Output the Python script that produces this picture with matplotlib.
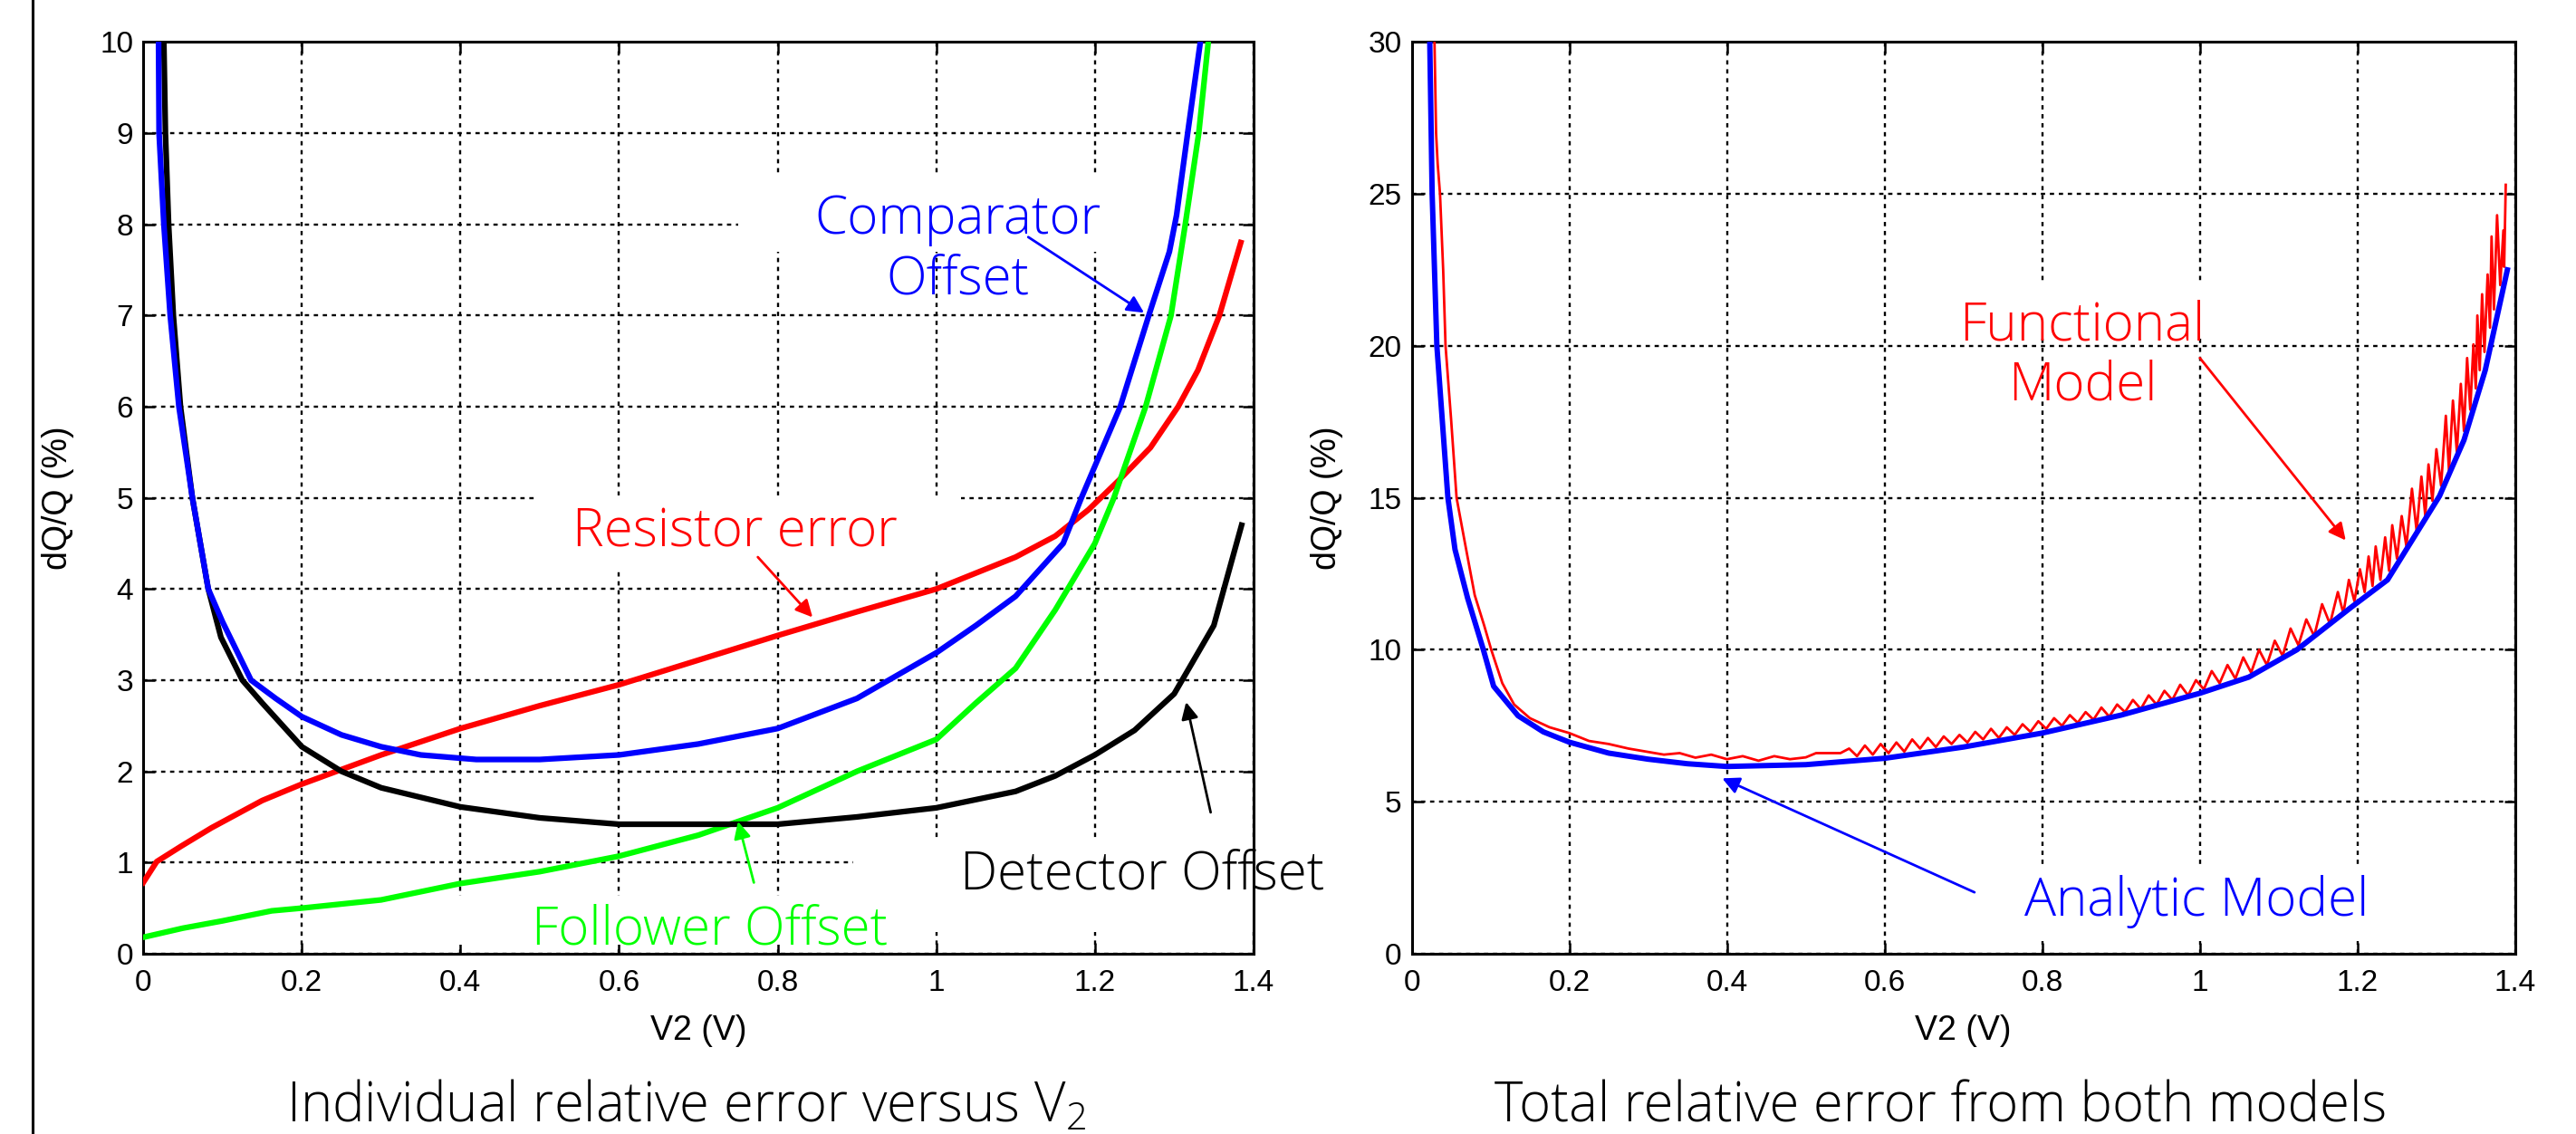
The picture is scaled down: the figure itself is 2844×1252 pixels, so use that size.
import matplotlib
matplotlib.use("Agg")
from matplotlib import pyplot as plt
from matplotlib.lines import Line2D
from matplotlib.patches import Rectangle

# ---- left panel: individual relative error (%) versus V2 (V)
comp_x = [0.019, 0.020, 0.026, 0.034, 0.045, 0.062, 0.082, 0.100, 0.136, 0.167, 0.200,
          0.250, 0.300, 0.350, 0.420, 0.500, 0.600, 0.700, 0.800, 0.900, 1.000, 1.050,
          1.100, 1.160, 1.183, 1.232, 1.268, 1.294, 1.303, 1.317, 1.341]
comp_y = [10.5, 9.0, 8.0, 7.0, 6.0, 5.0, 4.0, 3.64, 3.0, 2.8, 2.6,
          2.4, 2.27, 2.18, 2.13, 2.13, 2.18, 2.3, 2.47, 2.8, 3.3, 3.6,
          3.92, 4.5, 5.0, 6.0, 7.0, 7.7, 8.1, 9.0, 10.5]

det_x = [0.025, 0.028, 0.032, 0.038, 0.047, 0.062, 0.082, 0.098, 0.125, 0.150, 0.200,
         0.250, 0.300, 0.400, 0.500, 0.600, 0.700, 0.800, 0.900, 1.000, 1.100, 1.150,
         1.200, 1.250, 1.300, 1.350, 1.385]
det_y = [10.5, 9.0, 8.0, 7.0, 6.0, 5.0, 4.0, 3.47, 3.0, 2.75, 2.27,
         2.0, 1.82, 1.61, 1.49, 1.42, 1.42, 1.42, 1.5, 1.6, 1.78, 1.95,
         2.18, 2.45, 2.85, 3.6, 4.7]

res_x = [0.0, 0.017, 0.048, 0.086, 0.150, 0.200, 0.300, 0.400, 0.500, 0.600, 0.700,
         0.800, 0.900, 1.000, 1.100, 1.150, 1.192, 1.230, 1.270, 1.305, 1.330, 1.357, 1.384]
res_y = [0.78, 1.01, 1.18, 1.38, 1.68, 1.86, 2.18, 2.47, 2.72, 2.95, 3.22,
         3.49, 3.75, 4.0, 4.35, 4.58, 4.87, 5.19, 5.55, 6.0, 6.4, 7.0, 7.8]

fol_x = [0.0, 0.05, 0.10, 0.162, 0.200, 0.300, 0.400, 0.500, 0.600, 0.700, 0.750, 0.800,
         0.900, 1.000, 1.050, 1.100, 1.150, 1.200, 1.224, 1.264, 1.296, 1.314, 1.331, 1.349]
fol_y = [0.18, 0.28, 0.36, 0.47, 0.5, 0.59, 0.77, 0.9, 1.07, 1.3, 1.45, 1.6,
         2.0, 2.35, 2.75, 3.13, 3.77, 4.5, 5.0, 6.0, 7.0, 8.0, 9.0, 10.5]

# ---- right panel: total relative error (%) versus V2 (V)
ana_x = [0.023, 0.026, 0.032, 0.046, 0.055, 0.071, 0.091, 0.104, 0.135, 0.167, 0.200,
         0.250, 0.300, 0.350, 0.400, 0.500, 0.600, 0.700, 0.800, 0.900, 1.000, 1.062,
         1.123, 1.192, 1.238, 1.304, 1.335, 1.362, 1.390]
ana_y = [30.0, 25.0, 20.0, 15.0, 13.3, 11.7, 10.0, 8.8, 7.83, 7.3, 6.96,
         6.6, 6.4, 6.25, 6.16, 6.22, 6.43, 6.8, 7.26, 7.85, 8.57, 9.1,
         10.0, 11.4, 12.3, 15.06, 16.9, 19.2, 22.5]

fun_x = [0.029, 0.031, 0.033, 0.036, 0.040, 0.043, 0.050, 0.057, 0.067, 0.080, 0.092,
         0.101, 0.115, 0.130, 0.150, 0.175, 0.200, 0.225, 0.250, 0.275, 0.300, 0.320,
         0.340, 0.360, 0.380, 0.400, 0.420, 0.440, 0.460, 0.480, 0.500, 0.513, 0.544,
         0.555, 0.565, 0.575, 0.585, 0.595, 0.605, 0.615, 0.625, 0.635, 0.645, 0.655,
         0.665, 0.675, 0.685, 0.695, 0.705, 0.715, 0.725, 0.735, 0.745, 0.755, 0.765,
         0.775, 0.785, 0.795, 0.805, 0.815, 0.825, 0.835, 0.845, 0.855, 0.865, 0.875,
         0.885, 0.895, 0.905, 0.915, 0.925, 0.935, 0.945, 0.955, 0.965, 0.975, 0.985,
         0.995, 1.005, 1.015, 1.025, 1.035, 1.045, 1.055, 1.065, 1.075, 1.085, 1.095,
         1.105, 1.115, 1.125, 1.135, 1.145, 1.155, 1.165, 1.175, 1.182,
         1.189, 1.196, 1.203, 1.209, 1.214, 1.219, 1.223, 1.229, 1.235, 1.240, 1.244,
         1.250, 1.256, 1.262, 1.269, 1.275, 1.281, 1.286, 1.290, 1.295, 1.300, 1.306,
         1.312, 1.316, 1.321, 1.326, 1.331, 1.335, 1.339, 1.343, 1.347, 1.350, 1.352,
         1.355, 1.358, 1.361, 1.365, 1.368, 1.370, 1.373, 1.377, 1.381, 1.385, 1.386,
         1.388]
fun_y = [30.0, 27.0, 26.0, 25.0, 22.5, 20.0, 17.6, 15.0, 13.6, 11.8, 10.8,
         10.0, 8.9, 8.2, 7.75, 7.45, 7.26, 7.0, 6.9, 6.75, 6.64, 6.55,
         6.6, 6.45, 6.55, 6.4, 6.5, 6.35, 6.5, 6.4, 6.46, 6.6, 6.6,
         6.75, 6.5, 6.85, 6.55, 6.9, 6.6, 6.95, 6.65, 7.05, 6.75, 7.1,
         6.8, 7.15, 6.9, 7.2, 6.95, 7.3, 7.05, 7.4, 7.1, 7.45, 7.2,
         7.55, 7.3, 7.65, 7.4, 7.75, 7.5, 7.85, 7.6, 7.95, 7.7, 8.1,
         7.8, 8.2, 7.95, 8.35, 8.05, 8.5, 8.2, 8.65, 8.35, 8.85, 8.5,
         9.0, 8.7, 9.3, 8.9, 9.5, 9.05, 9.75, 9.25, 10.0, 9.5, 10.3,
         9.8, 10.7, 10.15, 11.0, 10.45, 11.5, 10.85, 11.9, 11.2,
         12.3, 11.6, 12.65, 11.9, 13.07, 12.1, 13.4, 12.3, 13.7, 12.6, 14.1,
         13.0, 14.4, 13.4, 15.3, 13.9, 15.7, 14.4, 16.1, 14.9, 16.6, 15.4,
         17.7, 15.9, 18.2, 16.5, 18.75, 17.2, 19.6, 17.9, 20.05, 18.6, 21.0,
         19.2, 21.7, 19.8, 22.35, 20.6, 23.6, 21.2, 24.3, 22.0, 23.8, 22.6,
         25.3]

x_ticks = [0, 0.2, 0.4, 0.6, 0.8, 1.0, 1.2, 1.4]
x_tick_labels = ["0", "0.2", "0.4", "0.6", "0.8", "1", "1.2", "1.4"]
left_y_ticks = list(range(0, 11))
right_y_ticks = [0, 5, 10, 15, 20, 25, 30]

LIGHT = dict(family=["Open Sans", "DejaVu Sans"], fontweight="light")
plt.rcParams["font.family"] = ["Liberation Sans", "DejaVu Sans"]
plt.rcParams["mathtext.default"] = "regular"

fig = plt.figure(figsize=(28.44, 12.52), dpi=100)
ax1 = fig.add_axes([0.0556, 0.159, 0.431, 0.804])
ax2 = fig.add_axes([0.548, 0.159, 0.4284, 0.804])


def style_axes(ax, yticks, ymax):
    ax.set_xlim(0, 1.4)
    ax.set_ylim(0, ymax)
    ax.set_xticks(x_ticks)
    ax.set_xticklabels(x_tick_labels)
    ax.set_yticks(yticks)
    ax.grid(True, color="black", linestyle=(0, (2, 2.2)), linewidth=1.7, zorder=0)
    ax.set_axisbelow(True)
    ax.tick_params(direction="in", length=9, width=1.8, top=True, right=True,
                   labelsize=24)
    ax.tick_params(axis="x", pad=12)
    ax.tick_params(axis="y", pad=8)
    for sp in ax.spines.values():
        sp.set_linewidth(2.2)
    ax.set_xlabel("V2 (V)", fontsize=27, labelpad=14)
    ax.set_ylabel("dQ/Q (%)", fontsize=27)
    ax.yaxis.set_label_coords(-0.062, 0.5)


def mask(ax, x0, y0, x1, y1):
    # white text-box fill that hides the grid behind a label
    ax.add_patch(Rectangle((x0, y0), x1 - x0, y1 - y0, facecolor="white",
                           edgecolor="none", zorder=1, clip_on=False))


style_axes(ax1, left_y_ticks, 10)
style_axes(ax2, right_y_ticks, 30)

# left panel curves
ax1.plot(res_x, res_y, color="#ff0000", lw=4.5, zorder=3)
ax1.plot(fol_x, fol_y, color="#00ff00", lw=4.5, zorder=3)
ax1.plot(det_x, det_y, color="black", lw=4.5, zorder=3)
ax1.plot(comp_x, comp_y, color="#0000ff", lw=4.5, zorder=3)

mask(ax1, 0.75, 7.70, 1.300, 8.55)
mask(ax1, 0.495, 4.23, 1.031, 5.03)
mask(ax1, 0.37, 0.10, 0.98, 0.64)
mask(ax1, 0.895, 0.24, 1.44, 1.27)

arrow = dict(arrowstyle="-|>", mutation_scale=28, shrinkA=0, shrinkB=0)
ax1.annotate("", xy=(1.262, 7.03), xytext=(1.116, 7.86),
             arrowprops=dict(arrow, color="#0000ff", lw=2))
ax1.annotate("", xy=(0.844, 3.69), xytext=(0.775, 4.35),
             arrowprops=dict(arrow, color="#ff0000", lw=2))
ax1.annotate("", xy=(0.75, 1.45), xytext=(0.77, 0.78),
             arrowprops=dict(arrow, color="#00ff00", lw=2))
ax1.annotate("", xy=(1.315, 2.76), xytext=(1.346, 1.55),
             arrowprops=dict(arrow, color="black", lw=2))

ax1.text(1.027, 7.72, "Comparator\nOffset", color="#0000ff", fontsize=42,
         ha="center", va="center", linespacing=1.15, zorder=5, **LIGHT)
ax1.text(0.746, 4.62, "Resistor error", color="#ff0000", fontsize=42,
         ha="center", va="center", zorder=5, **LIGHT)
ax1.text(0.714, 0.26, "Follower Offset", color="#00ff00", fontsize=42,
         ha="center", va="center", zorder=5, **LIGHT)
ax1.text(1.26, 0.86, "Detector Offset", color="black", fontsize=42,
         ha="center", va="center", zorder=5, clip_on=False, **LIGHT)

# right panel curves
ax2.plot(fun_x, fun_y, color="#ff0000", lw=2.0, zorder=3)
ax2.plot(ana_x, ana_y, color="#0000ff", lw=4.3, zorder=4)

mask(ax2, 0.624, 20.3, 1.016, 22.1)
mask(ax2, 0.65, 0.42, 1.30, 2.89)

ax2.annotate("", xy=(1.185, 13.6), xytext=(1.0, 19.6),
             arrowprops=dict(arrow, color="#ff0000", lw=2))
ax2.annotate("", xy=(0.394, 5.77), xytext=(0.714, 2.02),
             arrowprops=dict(arrow, color="#0000ff", lw=2))

ax2.text(0.851, 19.67, "Functional\nModel", color="#ff0000", fontsize=42,
         ha="center", va="center", linespacing=1.15, zorder=5, **LIGHT)
ax2.text(0.996, 1.72, "Analytic Model", color="#0000ff", fontsize=42,
         ha="center", va="center", zorder=5, **LIGHT)

# captions under each panel
fig.text(0.2665, 0.011, "Individual relative error versus $V_2$", fontsize=43,
         ha="center", va="baseline", color="black", **LIGHT)
fig.text(0.7535, 0.011, "Total relative error from both models", fontsize=43,
         ha="center", va="baseline", color="black", **LIGHT)

# page border line at the far left
fig.add_artist(Line2D([0.0127, 0.0127], [0, 1], color="black", lw=2.2,
                      transform=fig.transFigure))

fig.savefig("out.png", dpi=100)
